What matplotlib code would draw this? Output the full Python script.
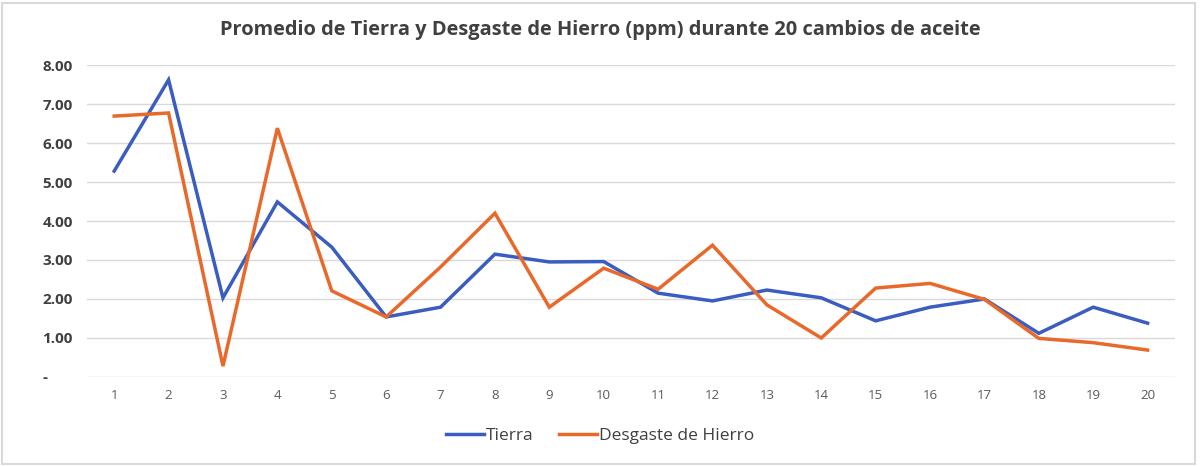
import matplotlib.pyplot as plt
from matplotlib.patches import Rectangle

cambios = list(range(1, 21))
tierra = [5.28, 7.62, 2.03, 4.49, 3.33, 1.54, 1.79, 3.15, 2.95, 2.96,
          2.15, 1.95, 2.23, 2.03, 1.44, 1.79, 2.00, 1.12, 1.79, 1.38]
hierro = [6.69, 6.77, 0.28, 6.38, 2.21, 1.54, 2.82, 4.20, 1.79, 2.79,
          2.25, 3.38, 1.85, 1.00, 2.28, 2.40, 1.99, 0.99, 0.88, 0.69]
yticks = [0, 1, 2, 3, 4, 5, 6, 7, 8]
ylabels = ["-", "1.00", "2.00", "3.00", "4.00", "5.00", "6.00", "7.00", "8.00"]

plt.rcParams['font.family'] = ['Open Sans', 'DejaVu Sans']

fig = plt.figure(figsize=(12, 4.66), dpi=100)
ax = fig.add_axes([0.0725, 0.191, 0.9065, 0.6695])

ax.plot(cambios, tierra, color='#3A5DBF', lw=2.5, label='Tierra', solid_joinstyle='miter')
ax.plot(cambios, hierro, color='#E8692A', lw=2.5, label='Desgaste de Hierro', solid_joinstyle='miter')

ax.set_xlim(0.5, 20.5)
ax.set_ylim(0, 8)
ax.set_xticks(cambios)
ax.set_xticklabels([str(c) for c in cambios], color='#595959', fontsize=9.5)
ax.set_yticks(yticks)
ax.set_yticklabels(ylabels, color='#404040', fontsize=11, fontweight='bold')
ax.tick_params(length=0, axis='both')
ax.tick_params(axis='x', pad=9)
ax.tick_params(axis='y', pad=32)
for lbl in ax.get_yticklabels():
    lbl.set_horizontalalignment('left')
ax.grid(axis='y', color='#D9D9D9', lw=1)
ax.set_axisbelow(True)
for s in ax.spines.values():
    s.set_visible(False)

fig.text(0.5, 0.935, "Promedio de Tierra y Desgaste de Hierro (ppm) durante 20 cambios de aceite",
         ha='center', va='center', fontsize=14.4, fontweight='bold', color='#404040')

fig.legend(loc='center', bbox_to_anchor=(0.5, 0.065), ncol=2, frameon=False,
           fontsize=12.5, handlelength=2.2, handletextpad=0.1, columnspacing=1.5,
           labelcolor='#404040')

fig.patches.append(Rectangle((0.002, 0.004), 0.994, 0.99, transform=fig.transFigure,
                             fill=False, edgecolor='#D9D9D9', lw=1.5))

fig.savefig('out.png', dpi=100)
